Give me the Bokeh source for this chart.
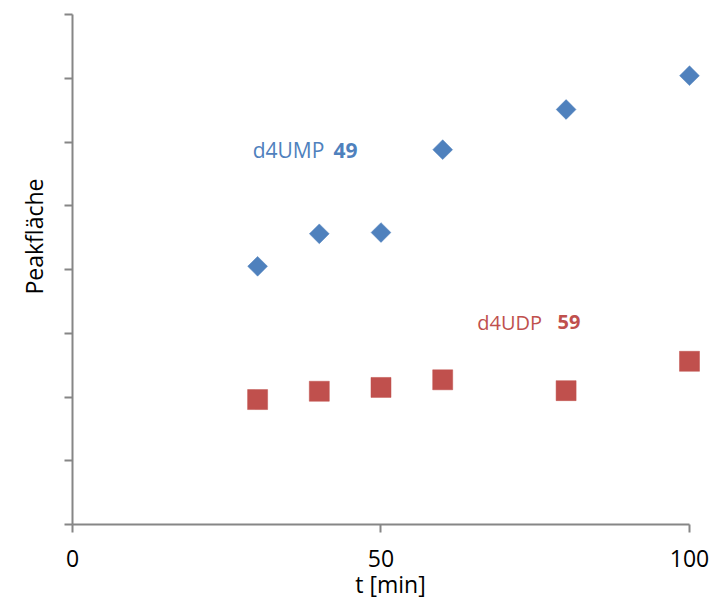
import math
from bokeh.plotting import figure
from bokeh.models import FixedTicker, Label, ColumnDataSource, Title
from bokeh.embed import file_html
from bokeh.resources import INLINE

# data
t_min = [30, 40, 50, 60, 80, 100]
ump_area = [4.05, 4.56, 4.58, 5.88, 6.51, 7.04]
udp_area = [1.96, 2.09, 2.15, 2.27, 2.10, 2.56]
x_ticks = [0, 50, 100]
y_ticks = [0, 1, 2, 3, 4, 5, 6, 7, 8]

BLUE = "#4F81BD"
RED = "#C0504D"
AX = "#868686"
FONT = "Open Sans"

p = figure(frame_width=636, frame_height=510, output_backend="svg", toolbar_location=None,
           x_range=(0, 103.08), y_range=(0, 8),
           min_border_left=72, min_border_right=2, min_border_top=14, min_border_bottom=72)
p.outline_line_color = None
p.xgrid.visible = False
p.ygrid.visible = False

src_u = ColumnDataSource(dict(x=t_min, y=ump_area))
src_d = ColumnDataSource(dict(x=t_min, y=udp_area))
p.scatter("x", "y", source=src_u, marker="square", size=14, angle=math.pi / 4,
          fill_color=BLUE, line_color=BLUE, line_width=0.5)
p.scatter("x", "y", source=src_d, marker="square", size=20,
          fill_color=RED, line_color=RED, line_width=0.5)

# x axis
xa = p.xaxis[0]
xa.ticker = FixedTicker(ticks=x_ticks)
xa.bounds = (0, 100)
xa.axis_line_color = AX
xa.axis_line_width = 2
xa.major_tick_line_color = AX
xa.major_tick_line_width = 2
xa.major_tick_in = 0
xa.major_tick_out = 8
xa.minor_tick_line_color = None
xa.major_label_text_font = FONT
xa.major_label_text_font_size = "23px"
xa.major_label_text_color = "black"
xa.major_label_standoff = 17
xa.axis_label = "t [min]"
xa.axis_label_text_font = FONT
xa.axis_label_text_font_size = "23px"
xa.axis_label_text_font_style = "normal"
xa.axis_label_text_color = "black"
xa.axis_label_standoff = -2

# y axis
ya = p.yaxis[0]
ya.ticker = FixedTicker(ticks=y_ticks)
ya.axis_line_color = AX
ya.axis_line_width = 2
ya.major_tick_line_color = AX
ya.major_tick_line_width = 2
ya.major_tick_in = 0
ya.major_tick_out = 8
ya.minor_tick_line_color = None
ya.major_label_text_font_size = "0px"
ya.major_label_text_color = None

# y axis title as a side title so it can be shifted along the axis
p.add_layout(Title(text="Peakfläche", align="left", offset=230, standoff=29,
                   text_font=FONT, text_font_size="23px", text_font_style="normal",
                   text_color="black"), "left")

# annotations
p.add_layout(Label(x=29.2, y=5.87, text="d4UMP", text_font=FONT,
                   text_font_size="21px", text_color=BLUE, text_baseline="alphabetic"))
p.add_layout(Label(x=42.3, y=5.87, text="49", text_font=FONT, text_font_style="bold",
                   text_font_size="21px", text_color=BLUE, text_baseline="alphabetic"))
p.add_layout(Label(x=65.6, y=3.17, text="d4UDP", text_font=FONT,
                   text_font_size="20px", text_color=RED, text_baseline="alphabetic"))
p.add_layout(Label(x=78.6, y=3.17, text="59", text_font=FONT, text_font_style="bold",
                   text_font_size="20px", text_color=RED, text_baseline="alphabetic"))

open("out.html", "w").write(file_html(p, INLINE))
